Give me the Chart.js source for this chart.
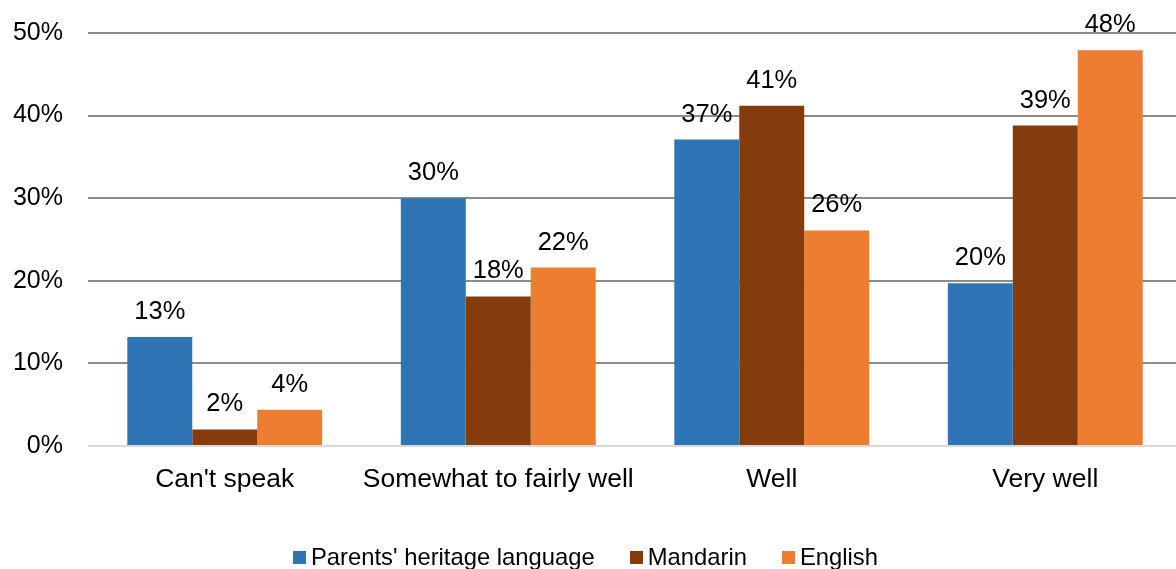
<!DOCTYPE html>
<html>
<head>
<meta charset="utf-8">
<script src="https://cdn.jsdelivr.net/npm/chart.js@4"></script>
<style>
  html, body { margin: 0; padding: 0; background: #fff; overflow: hidden; }
  #wrap { position: relative; width: 1176px; height: 569px; overflow: hidden; }
  #chart { position: absolute; left: 0; top: 0; }
  #legend { position: absolute; left: 293px; top: 546px; display: flex; align-items: center;
            font-family: "Liberation Sans", Arial, sans-serif; font-size: 23.8px; line-height: 22px; color: #000; white-space: nowrap; }
  .item { display: flex; align-items: center; margin-right: 35px; }
  .box { width: 13px; height: 13px; margin-right: 5px; }
</style>
</head>
<body>
<div id="wrap">
  <canvas id="chart" width="1183" height="569"></canvas>
  <div id="legend"></div>
</div>
<script>
// Chart data
const categories = ["Can't speak", 'Somewhat to fairly well', 'Well', 'Very well'];
const seriesNames = ["Parents' heritage language", 'Mandarin', 'English'];
const heritageValues = [13.2, 30.0, 37.1, 19.7];
const mandarinValues = [2.0, 18.1, 41.2, 38.8];
const englishValues = [4.4, 21.6, 26.1, 47.9];
const seriesColors = ['#2E75B6', '#843C0C', '#ED7D31'];
const yTicks = [0, 10, 20, 30, 40, 50];

const FONT = '"Liberation Sans", Arial, sans-serif';

// Function to draw value labels above each bar
const valueLabels = {
    id: 'valueLabels',
    afterDatasetsDraw(chart) {
        const ctx = chart.ctx;
        ctx.save();
        ctx.font = '25.5px ' + FONT;
        ctx.fillStyle = '#000';
        ctx.textAlign = 'center';
        ctx.textBaseline = 'alphabetic';
        chart.data.datasets.forEach((ds, i) => {
            chart.getDatasetMeta(i).data.forEach((bar, j) => {
                ctx.fillText(Math.round(ds.data[j]) + '%', bar.x, bar.y - 18);
            });
        });
        ctx.restore();
    }
};

const allValues = [heritageValues, mandarinValues, englishValues];

new Chart(document.getElementById('chart').getContext('2d'), {
    type: 'bar',
    data: {
        labels: categories,
        datasets: seriesNames.map((name, i) => ({
            label: name,
            data: allValues[i],
            backgroundColor: seriesColors[i],
            borderWidth: 0,
            categoryPercentage: 0.7125,
            barPercentage: 1
        }))
    },
    options: {
        responsive: false,
        animation: false,
        layout: { padding: { top: 33, right: 1, bottom: 63, left: 0 } },
        plugins: {
            legend: { display: false },
            tooltip: { enabled: false }
        },
        scales: {
            x: {
                grid: { display: false },
                border: { display: false },
                ticks: { color: '#000', font: { family: FONT, size: 26.5 }, padding: 10, maxRotation: 0, autoSkip: false },
                afterFit: s => { s.height = 60; s.paddingLeft = 0; s.paddingRight = 0; }
            },
            y: {
                min: 0,
                max: 50,
                afterBuildTicks: s => { s.ticks = yTicks.map(v => ({ value: v })); },
                grid: {
                    drawTicks: false,
                    lineWidth: 2,
                    color: c => c.tick && c.tick.value === 0 ? '#d9d9d9' : '#8c8c8c'
                },
                border: { display: false },
                ticks: { color: '#000', font: { family: FONT, size: 25 }, padding: 25, callback: v => v + '%' },
                afterFit: s => { s.width = 88; s.paddingTop = 0; s.paddingBottom = 0; }
            }
        }
    },
    plugins: [valueLabels]
});

// Build the legend as html under the chart
const legend = document.getElementById('legend');
seriesNames.forEach((name, i) => {
    const item = document.createElement('div');
    item.className = 'item';
    const box = document.createElement('span');
    box.className = 'box';
    box.style.background = seriesColors[i];
    const text = document.createElement('span');
    text.textContent = name;
    item.appendChild(box);
    item.appendChild(text);
    legend.appendChild(item);
});
</script>
</body>
</html>
